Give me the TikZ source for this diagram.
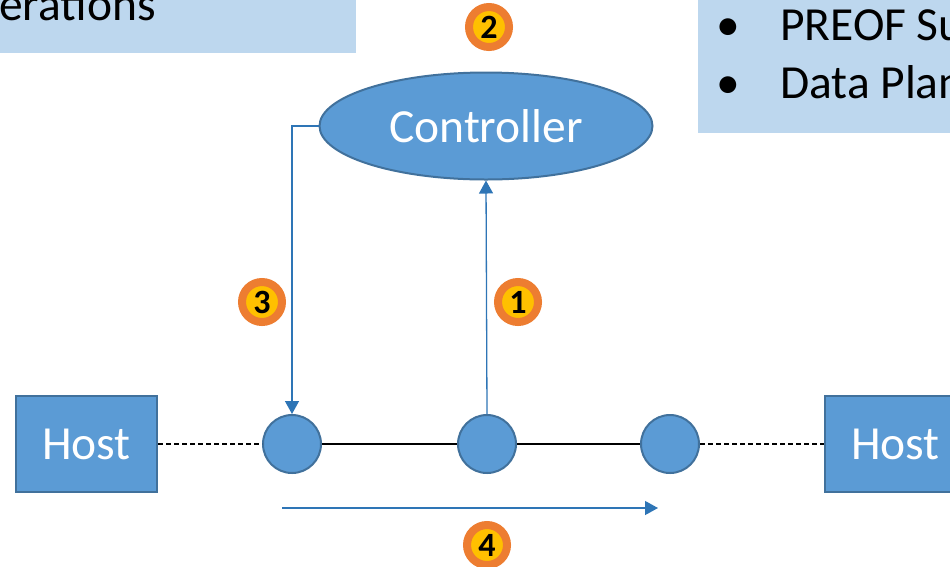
\documentclass[tikz,border=0pt]{standalone}
\usepackage{fontspec}
\setmainfont{Carlito}
\usetikzlibrary{shapes.geometric,arrows.meta}
\definecolor{lightbox}{HTML}{BDD7EE}
\definecolor{nodefill}{HTML}{5B9BD5}
\definecolor{nodeborder}{HTML}{41719C}
\definecolor{arrowblue}{HTML}{2E75B6}
\definecolor{badgeorange}{HTML}{ED7D31}
\definecolor{badgeyellow}{HTML}{FFC000}
\tikzset{
  bigtext/.style={font=\fontsize{47.5}{50}\selectfont},
  infobox/.style={fill=lightbox, draw=none},
  hostbox/.style={rectangle, fill=nodefill, draw=nodeborder, line width=2pt,
    minimum width=141pt, minimum height=96pt, inner sep=0pt, text=white, bigtext},
  switchnode/.style={circle, fill=nodefill, draw=nodeborder, line width=2pt,
    minimum size=58pt, inner sep=0pt},
  ctrlnode/.style={ellipse, fill=nodefill, draw=nodeborder, line width=2pt,
    minimum width=333pt, minimum height=107pt, inner sep=0pt, text=white, bigtext},
  badge/.style={circle, fill=badgeyellow, draw=badgeorange, line width=8pt,
    minimum size=40pt, inner sep=0pt, font=\fontsize{34}{36}\selectfont\bfseries},
  bluearrow/.style={draw=arrowblue, line width=1.3pt, -{Triangle[length=13pt,width=14pt]}},
  dashlink/.style={draw=black, line width=1.2pt, dash pattern=on 5pt off 3pt},
  solidlink/.style={draw=black, line width=1.3pt},
}
\begin{document}
\begin{tikzpicture}[x=1pt,y=-1pt]
\useasboundingbox (0,0) rectangle (950,566);
\clip (0,0) rectangle (950,566);
% info boxes
\fill[infobox] (-2,-2) rectangle (356,53);
\node[bigtext, anchor=base west, inner sep=0pt] (optext) at (-1,20) {erations};
\fill[infobox] (698,-2) rectangle (952,133);
\node[bigtext, anchor=base, inner sep=0pt] (bul1) at (728,40) {•};
\node[bigtext, anchor=base west, inner sep=0pt] (preof) at (780,40) {PREOF Su};
\node[bigtext, anchor=base, inner sep=0pt] (bul2) at (728,98) {•};
\node[bigtext, anchor=base west, inner sep=0pt] (dplane) at (780,98) {Data Plan};
% controller
\node[ctrlnode] (ctrl) at (486,126) {Controller};
% switches
\node[switchnode] (sw1) at (292,444) {};
\node[switchnode] (sw2) at (487,444) {};
\node[switchnode] (sw3) at (670,444) {};
% hosts
\node[hostbox] (hostL) at (86.5,444) {Host};
\node[hostbox] (hostR) at (895.5,444) {Host};
% links
\draw[dashlink] (hostL.east) -- (sw1.west);
\draw[dashlink] (sw3.east) -- (hostR.west);
\draw[solidlink] (sw1.east) -- (sw2.west);
\draw[solidlink] (sw2.east) -- (sw3.west);
% control arrows
\draw[bluearrow] (ctrl.west) -| (sw1.north);
\draw[bluearrow] (sw2.north) -- (ctrl.south);
\coordinate (fstart) at (282,508);
\coordinate (fend) at (658,508);
\draw[bluearrow] (fstart) -- (fend);
% badges
\node[badge] (b2) at (489,27) {2};
\node[badge] (b3) at (262,302) {3};
\node[badge] (b1) at (518,302) {1};
\node[badge] (b4) at (487,545) {4};
\end{tikzpicture}
\end{document}
